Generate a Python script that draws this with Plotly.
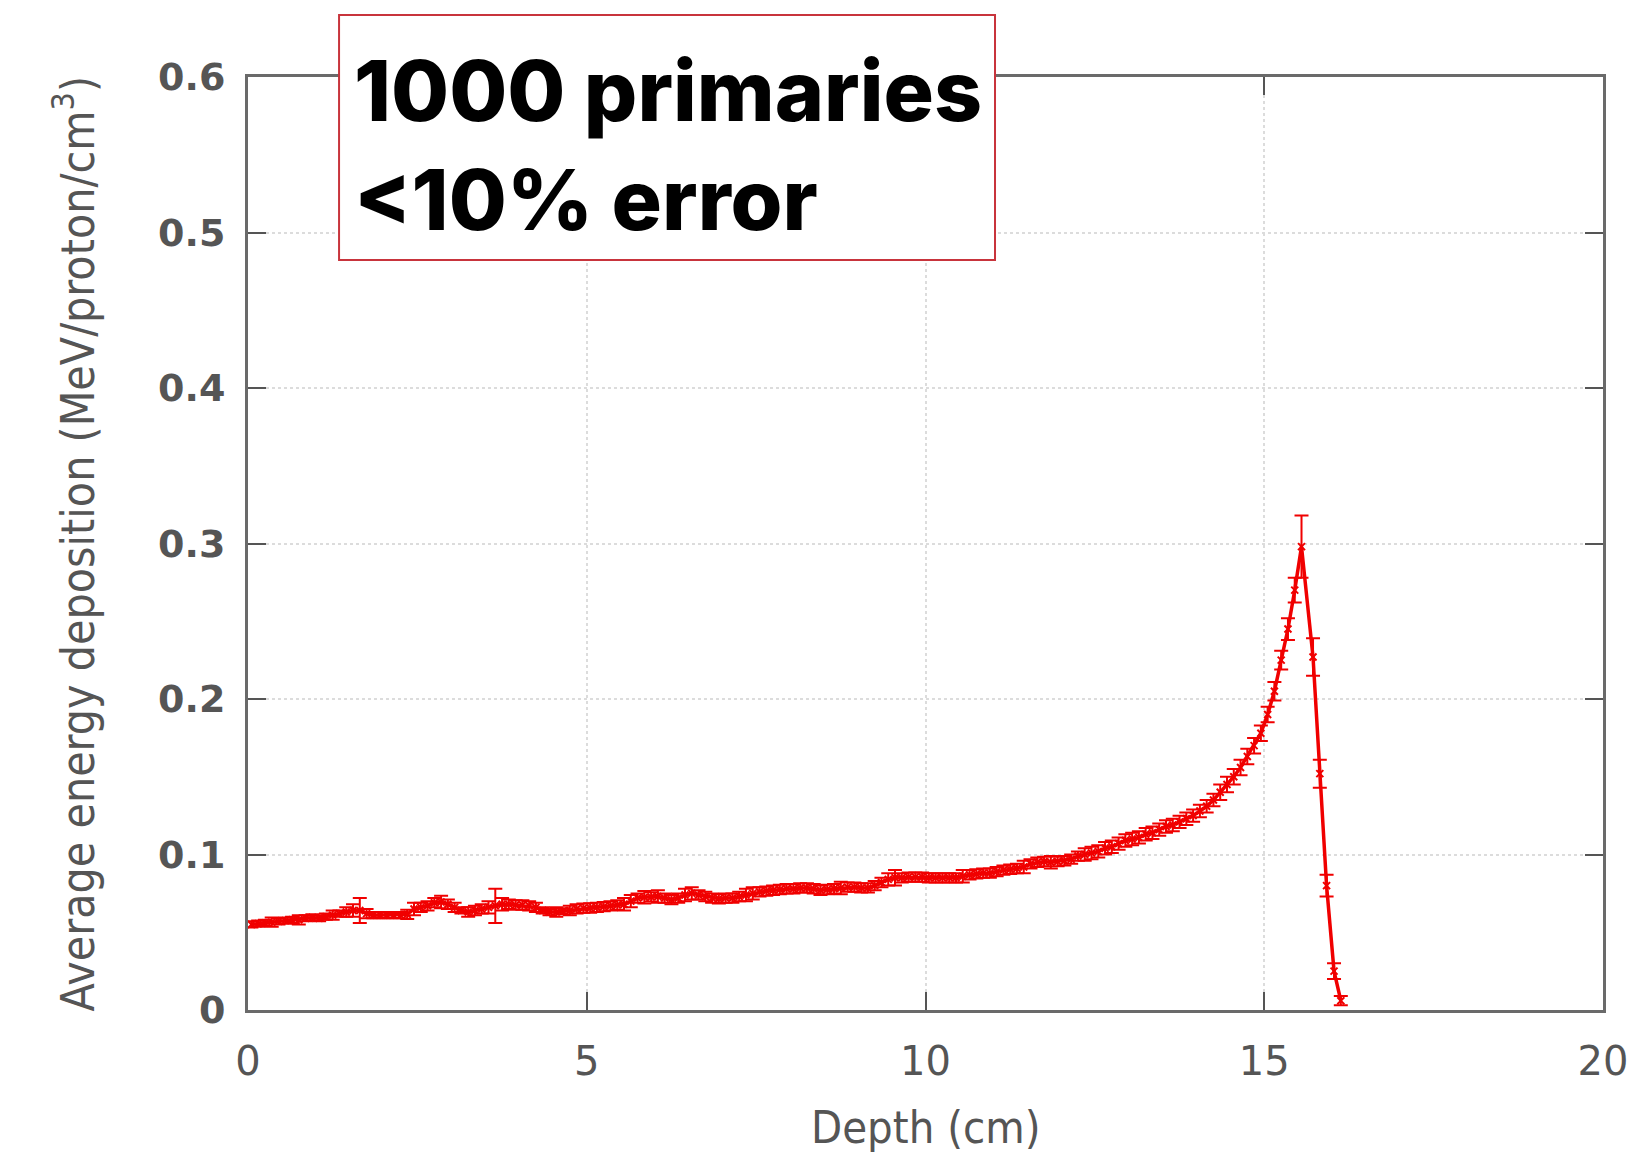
import plotly.graph_objects as go

# Depth bins (cm)
depth = [
    0.05, 0.15, 0.25, 0.35, 0.45, 0.55, 0.65, 0.75, 0.85, 0.95,
    1.05, 1.15, 1.25, 1.35, 1.45, 1.55, 1.65, 1.75, 1.85, 1.95,
    2.05, 2.15, 2.25, 2.35, 2.45, 2.55, 2.65, 2.75, 2.85, 2.95,
    3.05, 3.15, 3.25, 3.35, 3.45, 3.55, 3.65, 3.75, 3.85, 3.95,
    4.05, 4.15, 4.25, 4.35, 4.45, 4.55, 4.65, 4.75, 4.85, 4.95,
    5.05, 5.15, 5.25, 5.35, 5.45, 5.55, 5.65, 5.75, 5.85, 5.95,
    6.05, 6.15, 6.25, 6.35, 6.45, 6.55, 6.65, 6.75, 6.85, 6.95,
    7.05, 7.15, 7.25, 7.35, 7.45, 7.55, 7.65, 7.75, 7.85, 7.95,
    8.05, 8.15, 8.25, 8.35, 8.45, 8.55, 8.65, 8.75, 8.85, 8.95,
    9.05, 9.15, 9.25, 9.35, 9.45, 9.55, 9.65, 9.75, 9.85, 9.95,
    10.05, 10.15, 10.25, 10.35, 10.45, 10.55, 10.65, 10.75, 10.85, 10.95,
    11.05, 11.15, 11.25, 11.35, 11.45, 11.55, 11.65, 11.75, 11.85, 11.95,
    12.05, 12.15, 12.25, 12.35, 12.45, 12.55, 12.65, 12.75, 12.85, 12.95,
    13.05, 13.15, 13.25, 13.35, 13.45, 13.55, 13.65, 13.75, 13.85, 13.95,
    14.05, 14.15, 14.25, 14.35, 14.45, 14.55, 14.65, 14.75, 14.85, 14.95,
    15.05, 15.15, 15.25, 15.35, 15.45,
    15.55, 15.72, 15.82, 15.92, 16.03, 16.13,
]

# Average energy deposition (MeV/proton/cm^3)
energy = [
    0.0550, 0.0555, 0.0560, 0.0565, 0.0570, 0.0575, 0.0580, 0.0580, 0.0590, 0.0595,
    0.0590, 0.0600, 0.0610, 0.0620, 0.0630, 0.0640, 0.0640, 0.0620, 0.0610, 0.0610,
    0.0610, 0.0610, 0.0610, 0.0615, 0.0650, 0.0660, 0.0670, 0.0690, 0.0695, 0.0680,
    0.0660, 0.0640, 0.0630, 0.0640, 0.0650, 0.0660, 0.0670, 0.0680, 0.0680, 0.0675,
    0.0675, 0.0670, 0.0660, 0.0640, 0.0630, 0.0630, 0.0635, 0.0640, 0.0650, 0.0655,
    0.0656, 0.0660, 0.0665, 0.0670, 0.0675, 0.0680, 0.0700, 0.0720, 0.0725, 0.0727,
    0.0730, 0.0720, 0.0710, 0.0720, 0.0740, 0.0750, 0.0740, 0.0730, 0.0720, 0.0715,
    0.0720, 0.0720, 0.0730, 0.0740, 0.0750, 0.0760, 0.0765, 0.0770, 0.0775, 0.0780,
    0.0780, 0.0785, 0.0785, 0.0780, 0.0770, 0.0775, 0.0780, 0.0785, 0.0790, 0.0790,
    0.0785, 0.0785, 0.0800, 0.0820, 0.0840, 0.0850, 0.0850, 0.0855, 0.0855, 0.0855,
    0.0850, 0.0850, 0.0850, 0.0850, 0.0850, 0.0860, 0.0870, 0.0875, 0.0880, 0.0880,
    0.0890, 0.0900, 0.0905, 0.0910, 0.0920, 0.0940, 0.0950, 0.0955, 0.0950, 0.0955,
    0.0960, 0.0970, 0.0990, 0.1000, 0.1010, 0.1020, 0.1040, 0.1050, 0.1070, 0.1090,
    0.1100, 0.1110, 0.1130, 0.1140, 0.1160, 0.1180, 0.1190, 0.1210, 0.1230, 0.1250,
    0.1280, 0.1310, 0.1350, 0.1400, 0.1450, 0.1500, 0.1560, 0.1630, 0.1700, 0.1780,
    0.1900, 0.2050, 0.2250, 0.2450, 0.2700,
    0.2980, 0.2270, 0.1520, 0.0800, 0.0250, 0.0060,
]

# Statistical error bars
energy_err = [
    0.002, 0.002, 0.002, 0.003, 0.002, 0.002, 0.002, 0.003, 0.002, 0.002,
    0.002, 0.002, 0.003, 0.002, 0.003, 0.004, 0.008, 0.003, 0.002, 0.002,
    0.002, 0.002, 0.002, 0.003, 0.004, 0.003, 0.003, 0.003, 0.004, 0.003,
    0.003, 0.002, 0.003, 0.003, 0.003, 0.004, 0.011, 0.004, 0.003, 0.003,
    0.003, 0.003, 0.003, 0.002, 0.002, 0.003, 0.002, 0.003, 0.003, 0.003,
    0.003, 0.003, 0.003, 0.003, 0.003, 0.004, 0.004, 0.003, 0.004, 0.003,
    0.004, 0.003, 0.003, 0.003, 0.004, 0.004, 0.003, 0.003, 0.003, 0.003,
    0.003, 0.003, 0.003, 0.004, 0.004, 0.003, 0.003, 0.003, 0.003, 0.003,
    0.003, 0.003, 0.003, 0.003, 0.003, 0.003, 0.003, 0.004, 0.003, 0.003,
    0.003, 0.003, 0.003, 0.003, 0.004, 0.005, 0.003, 0.003, 0.003, 0.003,
    0.003, 0.003, 0.003, 0.003, 0.003, 0.004, 0.003, 0.003, 0.003, 0.003,
    0.003, 0.003, 0.003, 0.003, 0.004, 0.003, 0.003, 0.003, 0.004, 0.003,
    0.003, 0.003, 0.003, 0.004, 0.004, 0.004, 0.004, 0.004, 0.004, 0.004,
    0.004, 0.004, 0.004, 0.004, 0.004, 0.004, 0.004, 0.004, 0.004, 0.004,
    0.004, 0.004, 0.004, 0.005, 0.005, 0.005, 0.005, 0.005, 0.005, 0.005,
    0.005, 0.006, 0.006, 0.007, 0.008,
    0.020, 0.012, 0.009, 0.007, 0.005, 0.003,
]

x_ticks = [0, 5, 10, 15, 20]
y_ticks = [0, 0.1, 0.2, 0.3, 0.4, 0.5, 0.6]

RED = "#f00000"
AXIS_GREY = "#555555"

fig = go.Figure()
fig.add_trace(go.Scatter(
    x=depth, y=energy, mode="lines+markers",
    line=dict(color=RED, width=3.5),
    marker=dict(symbol="x-thin", size=7, line=dict(color=RED, width=2)),
    error_y=dict(type="data", array=energy_err, visible=True,
                 color=RED, thickness=2, width=7),
    showlegend=False,
))

title_font = dict(family="Liberation Sans Narrow, DejaVu Sans Condensed, Roboto Condensed, sans-serif",
                  size=45, color=AXIS_GREY)

fig.update_layout(
    width=1650, height=1153,
    margin=dict(l=248, r=47, t=77, b=143),
    paper_bgcolor="white", plot_bgcolor="white",
    xaxis=dict(
        range=[0, 20], tickvals=x_ticks, ticks="inside", ticklen=18, tickwidth=2,
        tickcolor=AXIS_GREY, showline=True, linecolor="#6a6a6a", linewidth=3,
        mirror="ticks", showgrid=True, gridcolor="#dcdcdc", griddash="dot",
        gridwidth=2, zeroline=False, ticklabelstandoff=14, automargin=False,
        tickfont=dict(family="DejaVu Sans", size=40, color=AXIS_GREY),
    ),
    yaxis=dict(
        range=[0, 0.6], tickvals=y_ticks, ticks="inside", ticklen=18, tickwidth=2,
        tickcolor=AXIS_GREY, showline=True, linecolor="#6a6a6a", linewidth=3,
        mirror="ticks", showgrid=True, gridcolor="#dcdcdc", griddash="dot",
        gridwidth=2, zeroline=False, ticklabelstandoff=12, automargin=False,
        tickfont=dict(family="DejaVu Sans", size=38, color=AXIS_GREY, weight="bold"),
    ),
)

# Axis titles
fig.add_annotation(xref="paper", yref="paper", x=0.5, y=-0.126,
                   xanchor="center", yanchor="middle", showarrow=False,
                   text="Depth (cm)", font=title_font)
fig.add_annotation(xref="paper", yref="paper", x=-0.1285, y=0.5,
                   xanchor="center", yanchor="middle", showarrow=False, textangle=-90,
                   text="Average energy deposition (MeV/proton/cm<sup>3</sup>)",
                   font=dict(title_font, size=46))

# Annotation box
fig.add_shape(type="rect", xref="paper", yref="paper",
              x0=0.0672, x1=0.5513, y0=0.8039, y1=1.0665,
              line=dict(color="#c8343c", width=2), fillcolor="white", layer="above")
fig.add_annotation(xref="paper", yref="paper", x=0.0768, y=0.9266,
                   xanchor="left", yanchor="middle", align="left", showarrow=False,
                   text="1000 primaries<br>&lt;10% error",
                   font=dict(family="Inter", size=84, color="black", weight=800))

fig.write_html("out.html")
